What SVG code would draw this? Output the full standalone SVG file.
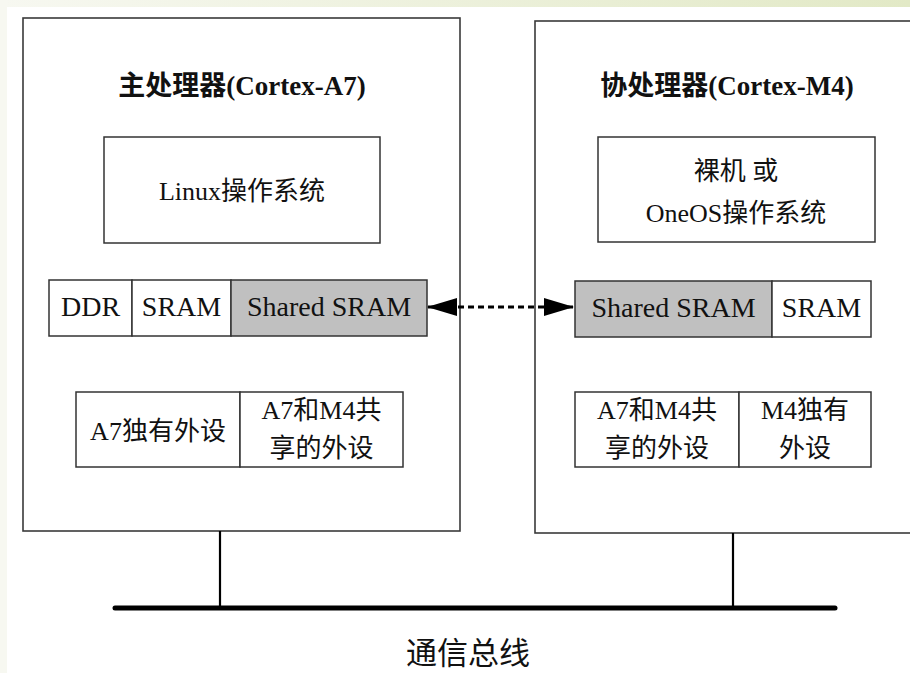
<svg xmlns="http://www.w3.org/2000/svg" width="910" height="673" viewBox="0 0 910 673">
<defs>
<linearGradient id="topband" x1="0" y1="0" x2="1" y2="0">
<stop offset="0" stop-color="#f7f8f1"/>
<stop offset="1" stop-color="#e2e9c6"/>
</linearGradient>
<marker id="ah" viewBox="0 0 30 18" refX="29" refY="9" markerWidth="30" markerHeight="18" markerUnits="userSpaceOnUse" orient="auto-start-reverse">
<path d="M0,0 L30,9 L0,18 Z" fill="#000"/>
</marker>
<style>
.box{fill:#fff;stroke:#3a3a3a;stroke-width:1.6}
.cell{fill:#fff;stroke:#333;stroke-width:1.5}
.shared{fill:#c0c0c0;stroke:#333;stroke-width:1.5}
.t{font-family:"Liberation Serif","Noto Sans CJK SC",serif;fill:#111;text-anchor:middle}
.title{font-size:27px;font-weight:bold}
.m{font-size:28px}
.p{font-size:26px}
.wire{stroke:#000;stroke-width:2.2;fill:none}
.dash{stroke:#000;stroke-width:3;fill:none;stroke-dasharray:6,4}
</style>
</defs>
<rect x="0" y="0" width="910" height="673" fill="#fff"/>
<rect x="0" y="0" width="910" height="7" fill="url(#topband)"/>
<rect x="0" y="0" width="7" height="673" fill="#f7f8f1"/>

<g id="main-processor">
<rect class="box" x="23" y="18" width="437" height="513"/>
<text class="t title" x="242" y="95">主处理器(Cortex-A7)</text>
</g>
<g id="co-processor">
<rect class="box" x="535" y="21" width="400" height="512"/>
<text class="t title" x="727" y="95">协处理器(Cortex-M4)</text>
</g>

<g id="linux-os">
<rect class="cell" x="104" y="137" width="276" height="106"/>
<text class="t p" x="242" y="200">Linux操作系统</text>
</g>
<g id="m4-os">
<rect class="cell" x="598" y="137" width="277" height="105"/>
<text class="t p" x="736" y="180">裸机 或</text>
<text class="t p" x="736" y="222">OneOS操作系统</text>
</g>

<g id="a7-memory">
<rect class="cell" x="49" y="280" width="83" height="56"/>
<text class="t m" x="90.5" y="316">DDR</text>
<rect class="cell" x="132" y="280" width="99" height="56"/>
<text class="t m" x="181.5" y="316">SRAM</text>
<rect class="shared" x="231" y="280" width="196" height="56"/>
<text class="t m" x="329" y="316">Shared SRAM</text>
</g>
<g id="m4-memory">
<rect class="shared" x="575" y="281" width="197" height="56"/>
<text class="t m" x="673.5" y="317">Shared SRAM</text>
<rect class="cell" x="772" y="281" width="99" height="56"/>
<text class="t m" x="821.5" y="317">SRAM</text>
</g>

<g id="a7-peripherals">
<rect class="cell" x="76" y="392" width="164" height="75"/>
<text class="t p" x="158" y="440">A7独有外设</text>
<rect class="cell" x="240" y="392" width="163" height="75"/>
<text class="t p" x="321.5" y="419">A7和M4共</text>
<text class="t p" x="321.5" y="457">享的外设</text>
</g>
<g id="m4-peripherals">
<rect class="cell" x="575" y="392" width="164" height="75"/>
<text class="t p" x="657" y="419">A7和M4共</text>
<text class="t p" x="657" y="457">享的外设</text>
<rect class="cell" x="739" y="392" width="132" height="75"/>
<text class="t p" x="805" y="419">M4独有</text>
<text class="t p" x="805" y="457">外设</text>
</g>

<g id="bus">
<line x1="115" y1="608" x2="835" y2="608" stroke="#000" stroke-width="5" stroke-linecap="round"/>
<text class="t" x="468" y="664" style="font-size:31px">通信总线</text>
</g>

<g id="connectors">
<line class="dash" x1="428" y1="307" x2="573" y2="307" marker-start="url(#ah)" marker-end="url(#ah)"/>
<line class="wire" x1="220" y1="531" x2="220" y2="608"/>
<line class="wire" x1="733" y1="533" x2="733" y2="608"/>
</g>
</svg>
